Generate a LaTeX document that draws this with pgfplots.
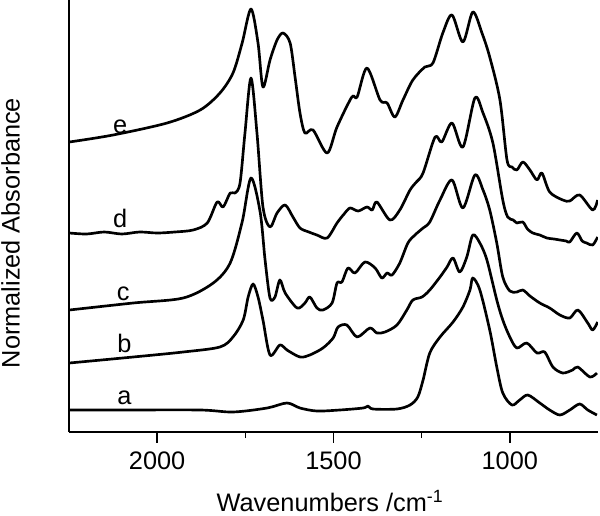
\documentclass[border=0pt]{standalone}
\usepackage{pgfplots}
\pgfplotsset{compat=1.18}
\usepackage{fontspec}
\setmainfont{Liberation Sans}
\begin{document}
\fontsize{19}{22}\selectfont
\begin{tikzpicture}
\useasboundingbox (-51.75pt,-62.25pt) rectangle (398.25pt,324pt);
\begin{axis}[
  at={(0pt,0pt)}, anchor=south west,
  scale only axis, width=396.75pt, height=324pt,
  xmin=750, xmax=2250, ymin=0, ymax=432,
  x dir=reverse,
  axis x line*=bottom, axis y line*=left,
  axis line style={line width=1.1pt},
  xtick={1000,1500,2000}, minor xtick={1250,1750},
  ytick=\empty,
  tick align=outside,
  major tick length=8pt, minor tick length=4.5pt,
  every tick/.style={line width=1.1pt, black},
  /pgf/number format/assume math mode=true,
  /pgf/number format/1000 sep={},
  tick label style={font=\fontsize{19}{22}\selectfont},
  xlabel={Wavenumbers /cm\textsuperscript{-1}},
  ylabel={Normalized Absorbance},
  label style={font=\fontsize{19}{22}\selectfont},
  xlabel style={at={(axis description cs:0.4934,-0.1830)}, anchor=base, inner sep=0pt},
  ylabel style={at={(axis description cs:-0.1106,0.4606)}, anchor=center, inner sep=0pt},
  cycle list={{black}},
  no markers,
  every axis plot/.append style={line width=2pt, smooth, tension=0.5, line join=round},
  clip=true,
]
% curve a
\addplot coordinates {(2249,22) (2100,22) (1878,22) (1785,20) (1688,24) (1632,29) (1595,24) (1547,21) (1482,22) (1416,24) (1402,26) (1388,23) (1320,23) (1283,27) (1261,35) (1246,52) (1227,79) (1198,95) (1161,110) (1133,125) (1113,142) (1105,154) (1085,142) (1057,102) (1037,65) (1020,39) (994,27) (972,32) (949,37) (915,29) (887,22) (858,17) (830,22) (802,28) (779,22) (753,17)};
% curve b
\addplot coordinates {(2249,69) (2068,75) (1926,80) (1822,85) (1785,95) (1756,112) (1742,135) (1728,148) (1714,135) (1700,112) (1680,77) (1652,87) (1632,82) (1595,75) (1567,77) (1530,84) (1501,94) (1487,105) (1462,107) (1433,95) (1397,104) (1377,99) (1354,100) (1320,107) (1292,122) (1275,132) (1249,135) (1227,142) (1198,155) (1178,165) (1161,174) (1142,160) (1122,175) (1105,197) (1085,189) (1065,172) (1037,132) (1020,112) (1000,95) (980,84) (952,89) (923,79) (901,80) (878,65) (850,59) (822,62) (807,65) (773,55) (753,59)};
% curve c
\addplot coordinates {(2249,122) (2068,129) (1926,134) (1841,149) (1793,169) (1759,210) (1734,254) (1708,220) (1694,172) (1680,134) (1666,135) (1652,152) (1637,139) (1603,124) (1581,129) (1567,135) (1547,124) (1530,122) (1504,129) (1490,149) (1476,150) (1459,164) (1439,159) (1411,170) (1382,164) (1363,154) (1348,159) (1334,157) (1312,169) (1289,189) (1269,197) (1246,204) (1227,210) (1198,232) (1164,252) (1133,224) (1099,257) (1076,242) (1057,222) (1037,189) (1020,155) (1000,141) (980,140) (963,142) (943,136) (915,129) (887,124) (858,117) (830,114) (807,122) (779,109) (765,102) (751,110)};
% curve d
\addplot coordinates {(2249,199) (2200,198) (2150,200) (2100,198) (2050,200) (2000,199) (1950,200) (1898,202) (1858,209) (1830,230) (1813,225) (1793,239) (1779,239) (1765,249) (1751,299) (1734,354) (1717,299) (1700,225) (1680,205) (1660,219) (1637,227) (1615,215) (1595,204) (1570,200) (1547,197) (1518,194) (1490,209) (1470,218) (1453,224) (1430,221) (1405,225) (1390,222) (1377,230) (1340,212) (1312,222) (1283,242) (1265,250) (1246,259) (1212,295) (1193,290) (1164,309) (1133,285) (1099,334) (1076,319) (1048,289) (1020,232) (1006,215) (990,212) (980,209) (963,210) (950,203) (935,199) (915,197) (895,194) (875,193) (858,192) (840,191) (830,190) (810,199) (795,191) (782,189) (765,187) (751,195)};
% curve e
\addplot coordinates {(2249,290) (2125,297) (1972,309) (1878,322) (1822,339) (1785,359) (1759,389) (1734,423) (1714,389) (1700,345) (1680,372) (1660,392) (1643,399) (1623,389) (1609,355) (1595,319) (1581,299) (1558,302) (1518,279) (1490,305) (1448,335) (1433,335) (1405,364) (1368,332) (1348,329) (1326,315) (1303,332) (1275,352) (1241,365) (1218,369) (1190,399) (1164,417) (1133,390) (1105,420) (1079,399) (1057,375) (1028,332) (1008,272) (994,265) (980,262) (963,270) (943,262) (923,252) (909,259) (887,240) (850,232) (830,231) (802,237) (765,222) (751,232)};
\node[anchor=base] at (axis cs:2105,299) {e};
\node[anchor=base] at (axis cs:2105,205) {d};
\node[anchor=base] at (axis cs:2096,132) {c};
\node[anchor=base] at (axis cs:2093,80) {b};
\node[anchor=base] at (axis cs:2093,28) {a};
\end{axis}
\end{tikzpicture}
\end{document}
